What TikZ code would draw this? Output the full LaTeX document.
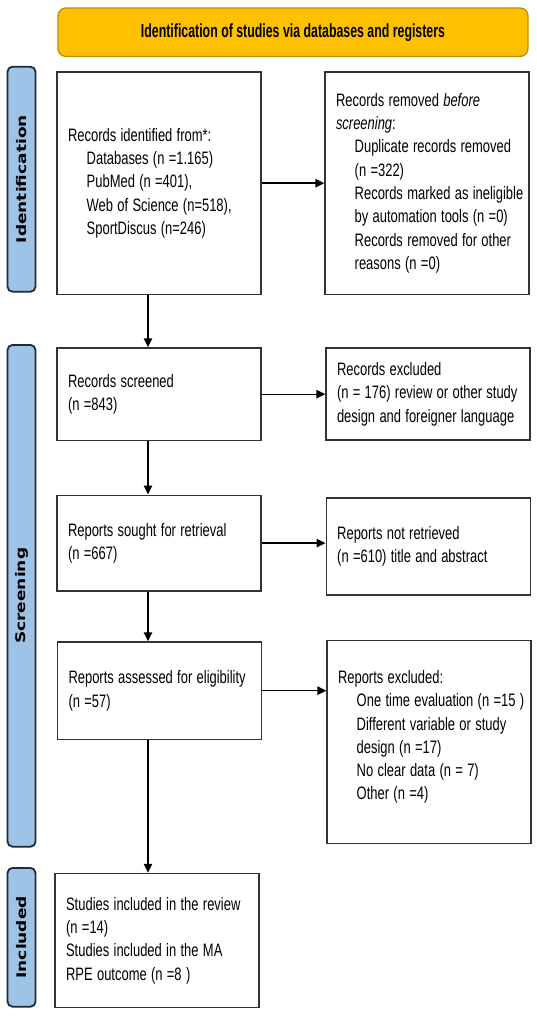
\documentclass[tikz,border=0pt]{standalone}
\usepackage{fontspec}
\setmainfont{Liberation Sans}
\newfontfamily\sidefont{DejaVu Sans}
\usetikzlibrary{arrows.meta}
\definecolor{gold}{HTML}{FFC000}
\definecolor{goldline}{HTML}{BF9000}
\definecolor{barblue}{HTML}{9DC3E6}
\definecolor{barline}{HTML}{1F2A3A}
\definecolor{boxline}{HTML}{333333}
\newcommand\tabin{\hspace*{26pt}}
\newcommand\nar[1]{\scalebox{0.72}[1]{\begin{tabular}{@{}l@{}}#1\end{tabular}}}
\newcommand\sidetext[1]{\rotatebox{90}{\scalebox{1}[0.78]{#1}}}
\begin{document}
\begin{tikzpicture}[x=1pt,y=-1pt,
  flowbox/.style={draw=boxline,line width=1.4pt,inner xsep=11pt,inner ysep=0pt,
    text width=182pt,align=left,font=\fontsize{18}{23.3}\selectfont},
  sidebar/.style={draw=barline,fill=barblue,line width=1.8pt,rounded corners=5pt,
    minimum width=28pt,inner sep=0pt,font=\sidefont\bfseries\fontsize{17}{17}\selectfont},
  banner/.style={draw=goldline,fill=gold,line width=1.3pt,rounded corners=8pt,
    minimum width=470pt,minimum height=48.5pt,font=\bfseries\fontsize{19}{20}\selectfont},
  flow/.style={-{Triangle[length=9pt,width=8.5pt]},line width=1.4pt}]
\useasboundingbox (0,0) rectangle (536,1019);
\node[banner] (head) at (293,32.2) {\scalebox{0.65}[1]{Identification of studies via databases and registers}};
\node[sidebar,minimum height=225pt] (s0) at (21.5,179.2) {\sidetext{Identification}};
\node[sidebar,minimum height=501.7pt] (s1) at (21.5,595.8) {\sidetext{Screening}};
\node[sidebar,minimum height=138.7pt] (s2) at (21.5,937.3) {\sidetext{Included}};
\node[flowbox,minimum height=222.7pt] (b0) at (159,183.2) {\nar{Records identified from*:\\
  \tabin Databases (n =1.165)\\ \tabin PubMed (n =401),\\
  \tabin Web of Science (n=518),\\ \tabin SportDiscus (n=246)}};
\node[flowbox,minimum height=222.7pt] (r0) at (427,183.2) {\nar{Records removed \textit{before}\\
  \textit{screening}:\\ \tabin Duplicate records removed\\ \tabin (n =322)\\
  \tabin Records marked as ineligible\\ \tabin by automation tools (n =0)\\
  \tabin Records removed for other\\ \tabin reasons (n =0)}};
\node[flowbox,minimum height=92.5pt] (b1) at (159,394.2) {\nar{Records screened\\ (n =843)}};
\node[flowbox,minimum height=92pt] (r1) at (428,394.1) {\nar{Records excluded\\
  (n = 176) review or other study\\ design and foreigner language}};
\node[flowbox,minimum height=95.8pt] (b2) at (159,543.1) {\nar{Reports sought for retrieval\\ (n =667)}};
\node[flowbox,minimum height=97pt] (r2) at (428.2,546.5) {\nar{Reports not retrieved\\
  (n =610) title and abstract}};
\node[flowbox,minimum height=97.5pt] (b3) at (159.5,690.7) {\nar{Reports assessed for eligibility\\ (n =57)}};
\node[flowbox,minimum height=203.5pt] (r3) at (429,742) {\nar{Reports excluded:\\
  \tabin One time evaluation (n =15 )\\ \tabin Different variable or study\\
  \tabin design (n =17)\\ \tabin No clear data (n = 7)\\ \tabin Other (n =4)\\[10pt]}};
\node[flowbox,minimum height=134pt] (b4) at (157.1,940.5) {\nar{Studies included in the review\\
  (n =14)\\ Studies included in the MA\\ RPE outcome (n =8 )}};
\coordinate (col) at (148,0);
\draw [flow] (b0.east) -- (b0.east -| r0.west);
\draw [flow] (b1.east) -- (b1.east -| r1.west);
\draw [flow] (b2.east) -- (b2.east -| r2.west);
\draw [flow] (b3.east) -- (b3.east -| r3.west);
\draw [flow] (b0.south -| col) -- (b1.north -| col);
\draw [flow] (b1.south -| col) -- (b2.north -| col);
\draw [flow] (b2.south -| col) -- (b3.north -| col);
\draw [flow] (b3.south -| col) -- (b4.north -| col);
\end{tikzpicture}
\end{document}
